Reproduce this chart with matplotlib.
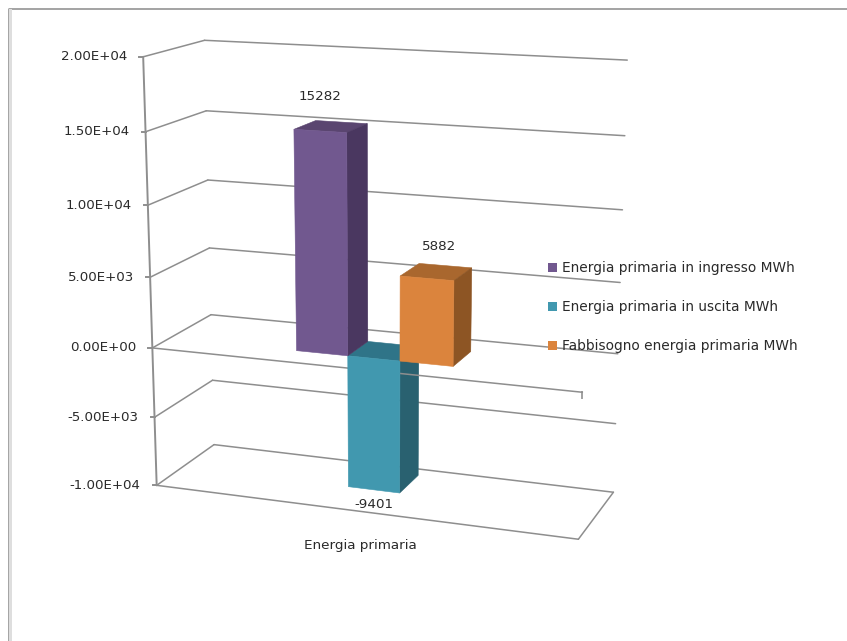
import numpy as np
import matplotlib
matplotlib.use("Agg")
import matplotlib.pyplot as plt
from matplotlib.patches import Patch

plt.rcParams['font.family'] = ['DejaVu Sans']

category = "Energia primaria"
series_names = ["Energia primaria in ingresso MWh", "Energia primaria in uscita MWh", "Fabbisogno energia primaria MWh"]
series_values = [15282, -9401, 5882]
tick_values = [20000, 15000, 10000, 5000, 0, -5000, -10000]
tick_labels = ["2.00E+04", "1.50E+04", "1.00E+04", "5.00E+03", "0.00E+00", "-5.00E+03", "-1.00E+04"]

front = ["#71588F", "#4198AF", "#DB843D"]
side = ["#4A3760", "#296170", "#8D5524"]
top = ["#5A4570", "#2F7488", "#A9672E"]
GRID = "#8E8E8E"
TXT = "#2A2A2A"

# Camera calibration of the 3-D box: (x fraction, depth fraction, value) -> pixel
cal = [
    (0, 0, 2e4, 143.5, 57), (0, 1, 2e4, 204.5, 40), (1, 1, 2e4, 627, 60),
    (0, 0, -1e4, 156.5, 485), (0, 1, -1e4, 214.3, 444.7), (1, 1, -1e4, 613.3, 492),
    (1, 0, -1e4, 578.3, 539.3), (0, 0, 0, 152, 348), (0, 1, 0, 211, 315),
    (1, 1, 0, 618, 354), (1, 0, 0, 582.7, 392.3),
]
A, b = [], []
for x, d, v, u, w in cal:
    n = v / 1e4
    A.append([x, d, n, 1, 0, 0, 0, 0, -u * x, -u * d, -u * n]); b.append(u)
    A.append([0, 0, 0, 0, x, d, n, 1, -w * x, -w * d, -w * n]); b.append(w)
P = np.linalg.lstsq(np.array(A, float), np.array(b, float), rcond=None)[0]


def proj(x, d, v):
    n = v / 1e4
    den = P[8] * x + P[9] * d + P[10] * n + 1
    return ((P[0] * x + P[1] * d + P[2] * n + P[3]) / den,
            (P[4] * x + P[5] * d + P[6] * n + P[7]) / den)


fig = plt.figure(figsize=(8.47, 6.41), dpi=100)
ax = fig.add_axes([0, 0, 1, 1])
ax.set_xlim(0, 847)
ax.set_ylim(641, 0)
ax.axis("off")

# outer chart frame
ax.plot([8.5, 8.5, 847], [641, 8.5, 8.5], color="#8A8A8A", lw=1.1, zorder=1)
ax.fill_between([9, 11.5], 9, 641, color="#DEDEDE", lw=0, zorder=1)


def seg(p, q, z=2, lw=1.1):
    pts = np.array([proj(*p), proj(*q)])
    ax.plot(pts[:, 0], pts[:, 1], color=GRID, lw=lw, zorder=z, solid_capstyle="round")


# walls / gridlines
for v, lab in zip(tick_values, tick_labels):
    seg((0, 0, v), (0, 1, v))
    seg((0, 1, v), (1, 1, v))
    px, py = proj(0, 0, v)
    ax.plot([px - 4, px], [py, py], color=GRID, lw=1.4, zorder=2)
    ax.text(px - 16, py, lab, ha="right", va="center", fontsize=9.6, color=TXT, zorder=6)
seg((0, 0, tick_values[0]), (0, 0, tick_values[-1]), lw=1.4)
# floor
vmin = tick_values[-1]
seg((0, 0, vmin), (1, 0, vmin), z=2)
seg((1, 0, vmin), (1, 1, vmin), z=2)

# bars
x0, w = 0.3145, 0.1235
d0, d1 = 0.290, 0.695


def box(i):
    v = series_values[i]
    xa, xb = x0 + i * w, x0 + (i + 1) * w
    hi, lo = max(v, 0), min(v, 0)
    def poly(pts, c, z):
        xy = np.array([proj(*p) for p in pts])
        ax.fill(xy[:, 0], xy[:, 1], color=c, lw=0.4, zorder=z)
    z = 3 + [1, 0, 2][i]
    poly([(xa, d0, hi), (xb, d0, hi), (xb, d1, hi), (xa, d1, hi)], top[i], z)
    poly([(xb, d0, hi), (xb, d1, hi), (xb, d1, lo), (xb, d0, lo)], side[i], z)
    poly([(xa, d0, hi), (xb, d0, hi), (xb, d0, lo), (xa, d0, lo)], front[i], z + 0.1)


for i in range(3):
    box(i)

# zero plane front edge, over the bars that cross it
seg((0, 0, 0), (1, 0, 0), z=3.05)
ex, ey = proj(1, 0, 0)
ax.plot([ex, ex], [ey, ey + 6], color="#A0A0A0", lw=1.4, zorder=3)

# data labels
offsets = [(0, -34), (0, 15), (12, -32)]
for i, v in enumerate(series_values):
    cx, cy = proj(x0 + (i + 0.5) * w, d0, v)
    ax.text(cx + offsets[i][0], cy + offsets[i][1], str(v), ha="center", va="center",
            fontsize=9.7, color=TXT, zorder=8)

# category label
ax.text(360, 545, category, ha="center", va="center", fontsize=9.7, color=TXT, zorder=6)

handles = [Patch(facecolor=c, edgecolor="none") for c in front]
leg = ax.legend(handles, series_names, loc="upper left", bbox_to_anchor=(548 / 847, 1 - 261 / 641),
                frameon=False, fontsize=9.9, handlelength=0.65, handleheight=0.65,
                handletextpad=0.37, labelspacing=1.82, borderpad=0, borderaxespad=0,
                labelcolor=TXT)
leg.set_zorder(7)

fig.savefig("out.png", dpi=100)
